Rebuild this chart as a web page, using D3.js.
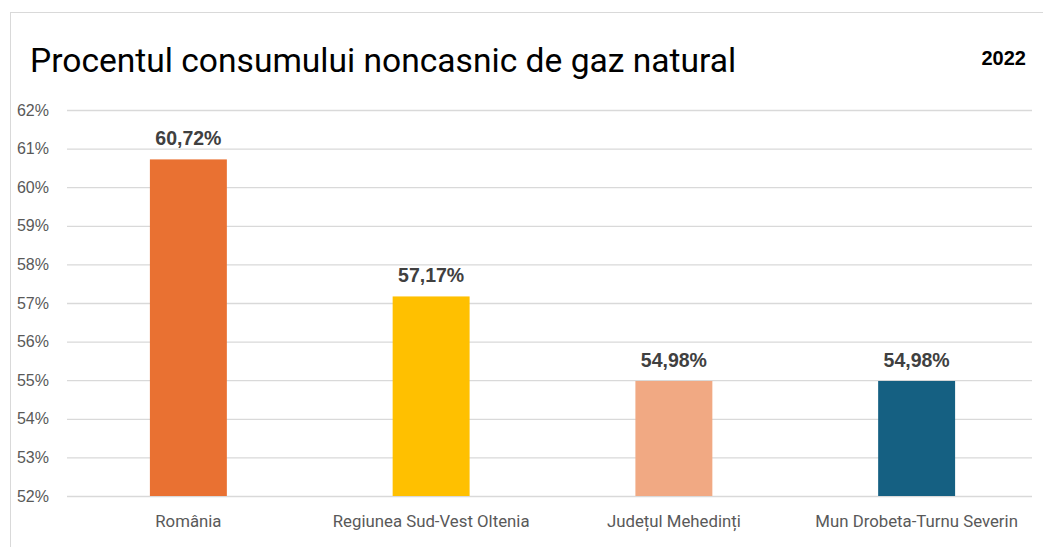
<!DOCTYPE html>
<html>
<head>
<meta charset="utf-8">
<script src="https://cdn.jsdelivr.net/npm/d3@7"></script>
<style>
  html, body { margin: 0; padding: 0; background: #fff; }
  svg { display: block; }
</style>
</head>
<body>
<svg id="chart" width="1043" height="547"></svg>
<script>
const categories = ["România", "Regiunea Sud-Vest Oltenia", "Județul Mehedinți", "Mun Drobeta-Turnu Severin"];
const values = [60.72, 57.17, 54.98, 54.98];
const valueLabels = ["60,72%", "57,17%", "54,98%", "54,98%"];
const barColors = ["#E97132", "#FFC000", "#F1A983", "#156082"];
const yTicks = [52, 53, 54, 55, 56, 57, 58, 59, 60, 61, 62];
const titleText = "Procentul consumului noncasnic de gaz natural";
const yearText = "2022";

const svg = d3.select("#chart");
const plot = { left: 67, right: 1038, top: 110, bottom: 496 };

// chart border
svg.append("rect")
  .attr("x", 10.5).attr("y", 12.5)
  .attr("width", 1040).attr("height", 560)
  .attr("fill", "#fff").attr("stroke", "#d9d9d9").attr("stroke-width", 1);

const x = d3.scaleBand()
  .domain(categories)
  .range([plot.left, plot.right])
  .paddingInner(0.683)
  .paddingOuter(0.3415);

const y = d3.scaleLinear()
  .domain([52, 62])
  .range([plot.bottom, plot.top]);

// gridlines
svg.append("g")
  .attr("transform", `translate(${plot.left},0)`)
  .call(d3.axisLeft(y).tickValues(yTicks).tickSize(-(plot.right - plot.left - 6)).tickFormat(""))
  .call(g => g.select(".domain").remove())
  .call(g => g.selectAll("line").attr("stroke", "#d9d9d9").attr("stroke-width", 1.3));

// y tick labels
svg.append("g")
  .attr("transform", `translate(${plot.left},0)`)
  .call(d3.axisLeft(y).tickValues(yTicks).tickSize(0).tickPadding(18).tickFormat(d => d + "%"))
  .call(g => g.select(".domain").remove())
  .call(g => g.selectAll("text")
    .attr("fill", "#595959")
    .attr("font-family", "'Liberation Sans', Arial, sans-serif")
    .attr("font-size", "16px"));

// bars
svg.append("g").selectAll("rect")
  .data(categories)
  .join("rect")
  .attr("x", d => x(d))
  .attr("y", (d, i) => y(values[i]))
  .attr("width", x.bandwidth())
  .attr("height", (d, i) => y(52) - y(values[i]))
  .attr("fill", (d, i) => barColors[i]);

// value labels
svg.append("g").selectAll("text")
  .data(categories)
  .join("text")
  .attr("x", d => x(d) + x.bandwidth() / 2)
  .attr("y", (d, i) => y(values[i]) - 14)
  .attr("text-anchor", "middle")
  .attr("font-family", "'Liberation Sans', Arial, sans-serif")
  .attr("font-weight", "bold")
  .attr("font-size", "19.5px")
  .attr("fill", "#404040")
  .text((d, i) => valueLabels[i]);

// x axis labels
svg.append("g")
  .attr("transform", `translate(0,${plot.bottom})`)
  .call(d3.axisBottom(x).tickSize(0).tickPadding(19))
  .call(g => g.select(".domain").remove())
  .call(g => g.selectAll("text")
    .attr("fill", "#595959")
    .attr("font-family", "Roboto, 'Open Sans', sans-serif")
    .attr("font-size", "16.8px"));

// title
svg.append("text")
  .attr("x", 30).attr("y", 72)
  .attr("font-family", "Roboto, 'Open Sans', sans-serif")
  .attr("font-size", "33.6px")
  .attr("fill", "#000")
  .text(titleText);

svg.append("text")
  .attr("x", 1026).attr("y", 65)
  .attr("text-anchor", "end")
  .attr("font-family", "'Liberation Sans', Arial, sans-serif")
  .attr("font-weight", "bold")
  .attr("font-size", "20px")
  .attr("fill", "#000")
  .text(yearText);
</script>
</body>
</html>
